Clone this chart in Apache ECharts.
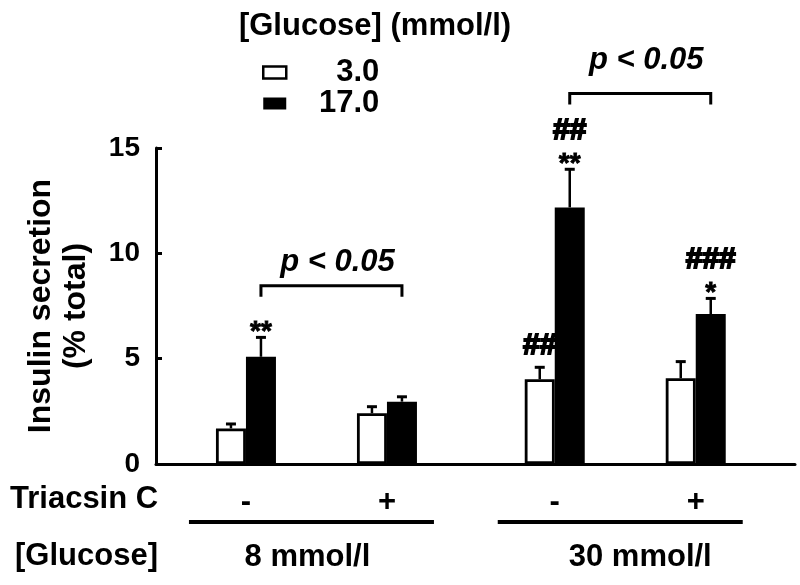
<!DOCTYPE html>
<html>
<head>
<meta charset="utf-8">
<script src="https://cdn.jsdelivr.net/npm/echarts@6/dist/echarts.min.js"></script>
<style>html,body{margin:0;padding:0;background:#fff;}#c{width:800px;height:585px;}</style>
</head>
<body>
<div id="c"></div>
<script>
// ---- data ----
const groupPos = [1, 2, 3.19, 4.19];          // x positions of the four treatment groups
const triacsin = ['-', '+', '-', '+'];
const pairLabels = ['8 mmol/l', '30 mmol/l'];  // glucose pre-culture for groups (0,1) and (2,3)
const seriesNames = ['3.0', '17.0'];
const glucoseLow = [1.69, 2.41, 4.02, 4.07];   // 3.0 mmol/l glucose
const glucoseHigh = [5.09, 2.96, 12.18, 7.12]; // 17.0 mmol/l glucose
const errLow = [0.21, 0.31, 0.57, 0.79];
const errHigh = [0.92, 0.23, 1.81, 0.74];
const starsHigh = ['**', '', '**', '*'];
const hashLow = ['', '', '##', ''];
const hashHigh = ['', '', '##', '###'];
const bracketLevel = [8.46, 17.59];
const pLabelLevel = [9.59, 19.14];
const pLabel = 'p < 0.05';
const yTicks = [0, 5, 10, 15];

// ---- styles ----
const FF = '"Liberation Sans", Arial, Helvetica, sans-serif';
const BAR_W = 30;
const pairLabelDx = [-9, 15];

function txt(text, x, y, size, extra) {
  const st = Object.assign({
    text: text, x: x, y: y,
    align: 'center', textAlign: 'center',
    verticalAlign: 'middle', textVerticalAlign: 'middle',
    fontSize: size, fontWeight: 'bold', fontFamily: FF, fill: '#000'
  }, extra || {});
  return {type: 'text', style: st};
}

const chart = echarts.init(document.getElementById('c'), null, {renderer: 'canvas'});

const option = {
  animation: false,
  backgroundColor: '#fff',
  grid: {left: 156, right: 5, top: 148, bottom: 121},
  xAxis: {
    type: 'value', min: 0.362, max: 4.894,
    axisLine: {show: true, onZero: false, lineStyle: {color: '#000', width: 3}},
    axisTick: {show: false}, axisLabel: {show: false}, splitLine: {show: false}
  },
  yAxis: {
    type: 'value', min: yTicks[0], max: yTicks[yTicks.length - 1], interval: 5,
    name: 'Insulin secretion\n(% total)',
    nameLocation: 'middle', nameGap: 62, nameRotate: 90,
    nameTextStyle: {fontFamily: FF, fontWeight: 'bold', fontSize: 32, lineHeight: 35, color: '#000'},
    axisLine: {show: true, lineStyle: {color: '#000', width: 3}},
    axisTick: {show: true, inside: true, length: 6, lineStyle: {color: '#000', width: 3}},
    axisLabel: {fontFamily: FF, fontWeight: 'bold', fontSize: 28, color: '#000', margin: 16},
    splitLine: {show: false}
  },
  legend: {
    orient: 'vertical', left: 257, top: 52,
    itemWidth: 23, itemHeight: 12, itemGap: 0, icon: 'rect',
    selectedMode: false,
    data: [
      {name: seriesNames[0], itemStyle: {color: '#fff', borderColor: '#000', borderWidth: 2.5}},
      {name: seriesNames[1], itemStyle: {color: '#000', borderWidth: 0}}
    ],
    formatter: '{a|{name}}',
    textStyle: {
      rich: {a: {width: 88, align: 'right', fontSize: 31, fontWeight: 'bold', fontFamily: FF, color: '#000', lineHeight: 34}}
    }
  },
  graphic: [
    txt('[Glucose] (mmol/l)', 375, 26, 31),
    txt('Triacsin C', 10, 499, 31, {align: 'left', textAlign: 'left'}),
    txt('[Glucose]', 15, 556, 31, {align: 'left', textAlign: 'left'})
  ],
  series: [
    {
      type: 'bar', name: seriesNames[0],
      data: groupPos.map((p, i) => [p, glucoseLow[i]]),
      barWidth: BAR_W, barGap: '0%',
      itemStyle: {color: '#fff', borderColor: '#000', borderWidth: 2.8}
    },
    {
      type: 'bar', name: seriesNames[1],
      data: groupPos.map((p, i) => [p, glucoseHigh[i]]),
      barWidth: BAR_W, barGap: '0%',
      itemStyle: {color: '#000'}
    },
    {
      // error bars and significance marks
      type: 'custom', clip: false, silent: true,
      data: groupPos.flatMap((p, i) => [[p, glucoseLow[i]], [p, glucoseHigh[i]]]),
      encode: {x: 0, y: 1},
      renderItem: function (params, api) {
        const i = params.dataIndex, g = i >> 1, s = i & 1;
        const val = s ? glucoseHigh[g] : glucoseLow[g];
        const err = s ? errHigh[g] : errLow[g];
        const p0 = api.coord([groupPos[g], val]);
        const p1 = api.coord([groupPos[g], val + err]);
        const x = p0[0] + (s ? BAR_W / 2 : -BAR_W / 2);
        const children = [
          {type: 'line', shape: {x1: x, y1: p0[1], x2: x, y2: p1[1]}, style: {stroke: '#000', lineWidth: 2.5}},
          {type: 'line', shape: {x1: x - 5, y1: p1[1], x2: x + 5, y2: p1[1]}, style: {stroke: '#000', lineWidth: 3}}
        ];
        const star = s ? starsHigh[g] : '';
        const hash = s ? hashHigh[g] : hashLow[g];
        if (star) children.push(txt(star, x, p1[1] - 5, 28, {stroke: '#000', lineWidth: 0.8}));
        if (hash) children.push(txt(hash, x, p1[1] - (star ? 39 : 22), 30, {stroke: '#000', lineWidth: 1.8}));
        return {type: 'group', children: children};
      },
      z: 5
    },
    {
      // Triacsin C row labels
      type: 'custom', clip: false, silent: true,
      data: groupPos.map(p => [p, 0]),
      encode: {x: 0, y: 1},
      renderItem: function (params, api) {
        const g = params.dataIndex;
        const pt = api.coord([groupPos[g], 0]);
        return txt(triacsin[g], pt[0], pt[1] + 38, 31);
      }
    },
    {
      // pair underlines, glucose labels, brackets and p labels
      type: 'custom', clip: false, silent: true,
      data: pairLabels.map((l, k) => [groupPos[2 * k], 0]),
      encode: {x: 0, y: 1},
      renderItem: function (params, api) {
        const k = params.dataIndex, a = 2 * k, b = 2 * k + 1;
        const pa = api.coord([groupPos[a], 0]);
        const pb = api.coord([groupPos[b], 0]);
        const y0 = pa[1];
        const mid = (pa[0] + pb[0]) / 2;
        const by = api.coord([groupPos[a], bracketLevel[k]])[1];
        const py = api.coord([groupPos[a], pLabelLevel[k]])[1];
        const bx1 = pa[0] + BAR_W / 2, bx2 = pb[0] + BAR_W / 2;
        return {
          type: 'group',
          children: [
            {type: 'line', shape: {x1: pa[0] - 57, y1: y0 + 58, x2: pb[0] + 47, y2: y0 + 58}, style: {stroke: '#000', lineWidth: 4}},
            txt(pairLabels[k], mid + pairLabelDx[k], y0 + 93, 31),
            {type: 'polyline', shape: {points: [[bx1, by + 11], [bx1, by], [bx2, by], [bx2, by + 11]]}, style: {stroke: '#000', lineWidth: 3, fill: null}},
            txt(pLabel, (bx1 + bx2) / 2 + 6, py, 31, {fontStyle: 'italic'})
          ]
        };
      }
    }
  ]
};
chart.setOption(option);
</script>
</body>
</html>
